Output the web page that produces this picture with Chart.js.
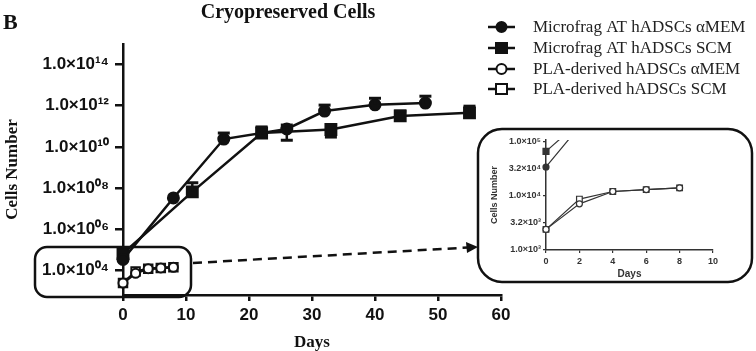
<!DOCTYPE html>
<html>
<head>
<meta charset="utf-8">
<script src="https://cdn.jsdelivr.net/npm/chart.js@4.4.0/dist/chart.umd.min.js"></script>
<style>
  body { margin: 0; background: #fff; }
  #wrap { position: relative; width: 756px; height: 351px; }
  #inset { position: absolute; left: 478px; top: 128px; }
</style>
</head>
<body>
<div id="wrap">
  <canvas id="main" width="756" height="351"></canvas>
  <canvas id="inset" width="276" height="156"></canvas>
</div>
<script>
// Microfrag AT hADSCs aMEM
const fragMemDays = [0, 8, 16, 26, 32, 40, 48];
const fragMemCells = [3.4e4, 3.3e7, 2.4e10, 7.4e10, 5.5e11, 1.1e12, 1.35e12];
const fragMemHigh = [null, null, 4.7e10, 1.15e11, 1.07e12, 2.3e12, 2.9e12];
const fragMemLow = [null, null, null, 2.1e10, null, null, null];

// Microfrag AT hADSCs SCM
const fragScmDays = [0, 11, 22, 33, 44, 55];
const fragScmCells = [6.6e4, 6.5e7, 4.7e10, 7.0e10, 3.2e11, 4.5e11];
const fragScmHigh = [null, 1.8e8, 9.3e10, null, 5.5e11, 9.5e11];
const fragScmLow = [null, null, null, 3.0e10, null, null];

// PLA-derived hADSCs
const plaDays = [0, 2, 4, 6, 8];
const plaMemCells = [2.4e3, 7.1e3, 1.2e4, 1.3e4, 1.4e4];
const plaScmCells = [2.4e3, 8.7e3, 1.2e4, 1.3e4, 1.4e4];

const seriesNames = ['Microfrag AT hADSCs \u03b1MEM', 'Microfrag AT hADSCs SCM',
  'PLA-derived hADSCs \u03b1MEM', 'PLA-derived hADSCs SCM'];
const mainYTicks = [1e4, 1e6, 1e8, 1e10, 1e12, 1e14];
const insetYTicks = [1e3, 3.2e3, 1e4, 3.2e4, 1e5];

const INK = '#111';
const SUP = {'0':'\u2070','1':'\u00b9','2':'\u00b2','3':'\u00b3','4':'\u2074','5':'\u2075','6':'\u2076','7':'\u2077','8':'\u2078','9':'\u2079'};
const sup = s => String(s).split('').map(c => SUP[c]).join('');

const pts = (days, cells) => days.map((d, i) => ({ x: d, y: cells[i] }));

function makeSets(big) {
  const lw = big ? 2.5 : 1.2;
  const col = big ? INK : '#333';
  const r = big ? 5.5 : 3;
  const base = { borderColor: col, borderWidth: lw, tension: 0, pointBorderColor: col, pointBorderWidth: big ? 2 : 1.2 };
  const clip = big ? false : { left: 6, top: 0, right: 0, bottom: 6 };
  return [
    { ...base, label: seriesNames[0], data: pts(fragMemDays, fragMemCells), pointStyle: 'circle', pointRadius: r,
      pointBackgroundColor: col, errHigh: fragMemHigh, errLow: fragMemLow, clip },
    { ...base, label: seriesNames[1], data: pts(fragScmDays, fragScmCells), pointStyle: 'rect', pointRadius: r * 1.4,
      pointBackgroundColor: col, errHigh: fragScmHigh, errLow: fragScmLow, clip },
    { ...base, label: seriesNames[2], data: pts(plaDays, plaMemCells), pointStyle: 'circle', pointRadius: big ? 4.5 : 3,
      pointBackgroundColor: '#fff', clip },
    { ...base, label: seriesNames[3], data: pts(plaDays, plaScmCells), pointStyle: 'rect', pointRadius: big ? 6 : 4,
      pointBackgroundColor: '#fff', clip }
  ];
}

const errorBars = {
  id: 'errorBars',
  afterDatasetsDraw(chart) {
    const { ctx, scales: { x, y } } = chart;
    ctx.save();
    ctx.strokeStyle = INK;
    chart.data.datasets.forEach(ds => {
      ['errHigh', 'errLow'].forEach(key => {
        (ds[key] || []).forEach((v, i) => {
          if (v == null) return;
          const px = x.getPixelForValue(ds.data[i].x);
          const py = y.getPixelForValue(ds.data[i].y);
          const pe = y.getPixelForValue(v);
          ctx.lineWidth = 2.5;
          ctx.beginPath(); ctx.moveTo(px, py); ctx.lineTo(px, pe); ctx.stroke();
          ctx.lineWidth = 3;
          ctx.beginPath(); ctx.moveTo(px - 6, pe); ctx.lineTo(px + 6, pe); ctx.stroke();
        });
      });
    });
    ctx.restore();
  }
};

function roundBox(ctx, x, y, w, h, r) {
  ctx.beginPath();
  ctx.roundRect(x, y, w, h, r);
  ctx.stroke();
}

const decor = {
  id: 'decor',
  afterDraw(chart) {
    const { ctx } = chart;
    ctx.save();
    ctx.fillStyle = INK;
    ctx.strokeStyle = INK;
    ctx.textBaseline = 'middle';
    ctx.font = 'bold 22px "Liberation Serif"';
    ctx.textAlign = 'left';
    ctx.fillText('B', 3, 23);
    ctx.font = 'bold 20px "Liberation Serif"';
    ctx.textAlign = 'center';
    ctx.fillText('Cryopreserved Cells', 288, 13);

    // legend
    const rows = [27, 48, 69, 89];
    ctx.textAlign = 'left';
    ctx.font = '17px "Liberation Serif"';
    rows.forEach((ry, i) => {
      ctx.lineWidth = 2.5;
      ctx.beginPath(); ctx.moveTo(488, ry); ctx.lineTo(515, ry); ctx.stroke();
      ctx.lineWidth = 2;
      ctx.fillStyle = i < 2 ? INK : '#fff';
      ctx.beginPath();
      if (i % 2 === 0) ctx.arc(501.5, ry, 5, 0, Math.PI * 2);
      else ctx.rect(496, ry - 5, 11, 10);
      ctx.fill(); ctx.stroke();
      ctx.fillStyle = '#222';
      ctx.fillText(seriesNames[i], 533, ry + 1);
    });

    // zoom boxes and arrow
    ctx.lineWidth = 2.5;
    roundBox(ctx, 35, 247, 156, 50, 12);
    roundBox(ctx, 478, 129, 274, 153, 24);
    ctx.setLineDash([9, 6]);
    ctx.beginPath(); ctx.moveTo(193, 263); ctx.lineTo(468, 247.5); ctx.stroke();
    ctx.setLineDash([]);
    ctx.beginPath();
    ctx.moveTo(478, 247); ctx.lineTo(466, 242); ctx.lineTo(467, 253); ctx.closePath();
    ctx.fillStyle = INK; ctx.fill();
    ctx.restore();
  }
};

new Chart(document.getElementById('main'), {
  type: 'line',
  data: { datasets: makeSets(true) },
  options: {
    responsive: false,
    animation: false,
    layout: { padding: { top: 44, right: 255, left: 0, bottom: 0 } },
    plugins: { legend: { display: false }, tooltip: { enabled: false } },
    scales: {
      x: {
        type: 'linear', min: 0, max: 60,
        ticks: { stepSize: 10, color: INK, padding: 4, font: { family: 'Liberation Sans', size: 17, weight: 'bold' } },
        grid: { drawOnChartArea: false, tickLength: 6, color: INK, lineWidth: 2.5 },
        border: { color: INK, width: 2.5 },
        title: { display: true, text: 'Days', color: INK, padding: 0,
          font: { family: 'Liberation Serif', size: 17, weight: 'bold', lineHeight: 1 } },
        afterFit: s => { s.height = 56; }
      },
      y: {
        type: 'logarithmic', min: Math.pow(10, 2.8), max: 1e15,
        afterBuildTicks: s => { s.ticks = mainYTicks.map(v => ({ value: v })); },
        ticks: {
          color: INK, padding: 6, font: { family: 'Liberation Sans', size: 17, weight: 'bold' },
          callback: v => '1.0\u00d710' + sup(String(Math.round(Math.log10(v))).padStart(2, '0'))
        },
        grid: { drawOnChartArea: false, tickLength: 8, color: INK, lineWidth: 2.5 },
        border: { color: INK, width: 2.5 },
        title: { display: true, text: 'Cells Number', color: INK, padding: { top: 2 },
          font: { family: 'Liberation Serif', size: 17, weight: 'bold' } },
        afterFit: s => { s.width = 123; }
      }
    }
  },
  plugins: [errorBars, decor]
});

new Chart(document.getElementById('inset'), {
  type: 'line',
  data: { datasets: makeSets(false) },
  options: {
    responsive: false,
    animation: false,
    layout: { padding: { top: 12, right: 41, left: 0, bottom: 0 } },
    plugins: { legend: { display: false }, tooltip: { enabled: false } },
    scales: {
      x: {
        type: 'linear', min: 0, max: 10,
        ticks: { stepSize: 2, color: '#333', padding: 3, font: { family: 'Liberation Sans', size: 9, weight: 'bold' } },
        grid: { drawOnChartArea: false, tickLength: 3, color: '#333', lineWidth: 1.2 },
        border: { color: '#333', width: 1.5 },
        title: { display: true, text: 'Days', color: '#333', padding: { bottom: 4 },
          font: { family: 'Liberation Sans', size: 10, weight: 'bold' } },
        afterFit: s => { s.height = 34; }
      },
      y: {
        type: 'logarithmic', min: 1e3, max: 1.07e5,
        afterBuildTicks: s => { s.ticks = insetYTicks.map(v => ({ value: v })); },
        ticks: {
          color: '#333', padding: 2, font: { family: 'Liberation Sans', size: 9, weight: 'bold' },
          callback: v => {
            const e = Math.floor(Math.log10(v) + 1e-9);
            return (v / Math.pow(10, e)).toFixed(1) + '\u00d710' + sup(e);
          }
        },
        grid: { drawOnChartArea: false, tickLength: 3, color: '#333', lineWidth: 1.2 },
        border: { color: '#333', width: 1.5 },
        title: { display: true, text: 'Cells Number', color: '#333', padding: { top: 11 },
          font: { family: 'Liberation Sans', size: 9, weight: 'bold' } },
        afterFit: s => { s.width = 68; }
      }
    }
  }
});
</script>
</body>
</html>
